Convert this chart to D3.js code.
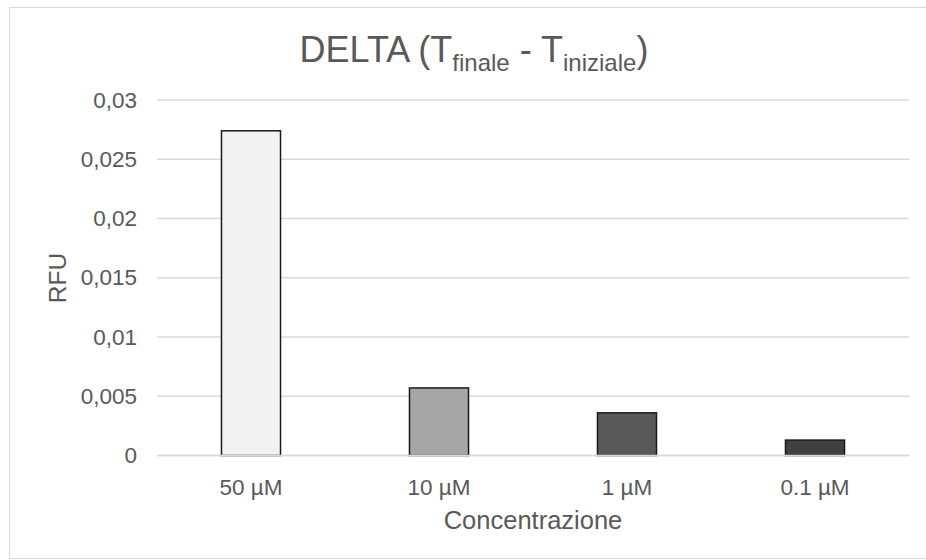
<!DOCTYPE html>
<html>
<head>
<meta charset="utf-8">
<script src="https://cdn.jsdelivr.net/npm/d3@7"></script>
<style>
  html, body { margin: 0; padding: 0; background: #fff; }
  svg { display: block; }
  text { font-family: "Liberation Sans", Arial, sans-serif; fill: #595959; }
</style>
</head>
<body>
<svg id="chart" width="926" height="560"></svg>
<script>
// Concentration groups and measured RFU deltas
const categories = ["50 µM", "10 µM", "1 µM", "0.1 µM"];
const values = [0.0274, 0.0057, 0.0036, 0.0013];
const barColors = ["#f2f2f2", "#a6a6a6", "#595959", "#404040"];
const yTicks = [0, 0.005, 0.01, 0.015, 0.02, 0.025, 0.03];
const yTickLabels = ["0", "0,005", "0,01", "0,015", "0,02", "0,025", "0,03"];

const svg = d3.select("#chart");
const W = 926, H = 560;
const plot = { left: 157, right: 909, top: 100, bottom: 455.5 };
const FONT = "'Liberation Sans', Arial, sans-serif";

// chart area frame
svg.append("rect")
  .attr("x", 9.5).attr("y", 7.5)
  .attr("width", W + 10).attr("height", 551)
  .attr("fill", "#fff").attr("stroke", "#d9d9d9").attr("stroke-width", 1);

const x = d3.scaleBand()
  .domain(categories)
  .range([plot.left, plot.right])
  .paddingInner(0.686)
  .paddingOuter(0.343);

const y = d3.scaleLinear()
  .domain([0, 0.03])
  .range([plot.bottom, plot.top]);

// horizontal gridlines
svg.append("g")
  .selectAll("line")
  .data(yTicks)
  .join("line")
  .attr("x1", plot.left).attr("x2", plot.right)
  .attr("y1", d => y(d)).attr("y2", d => y(d))
  .attr("stroke", "#d9d9d9").attr("stroke-width", 1.3);

// y axis tick labels
const yAxis = d3.axisLeft(y)
  .tickValues(yTicks)
  .tickFormat((d, i) => yTickLabels[i])
  .tickSize(0)
  .tickPadding(20);
const gy = svg.append("g").attr("transform", `translate(${plot.left},0)`).call(yAxis);
gy.select(".domain").remove();
gy.selectAll("text").style("font-size", "22.5px").attr("fill", "#595959")
  .style("font-family", FONT);

// bars
svg.append("g")
  .selectAll("rect")
  .data(values)
  .join("rect")
  .attr("x", (d, i) => x(categories[i]))
  .attr("y", d => y(d))
  .attr("width", x.bandwidth())
  .attr("height", d => y(0) - y(d))
  .attr("fill", (d, i) => barColors[i])
  .attr("stroke", "#1a1a1a")
  .attr("stroke-width", 1.5);

// baseline axis
svg.append("line")
  .attr("x1", plot.left).attr("x2", plot.right)
  .attr("y1", y(0)).attr("y2", y(0))
  .attr("stroke", "#d9d9d9").attr("stroke-width", 1.5);

// x axis category labels
const xAxis = d3.axisBottom(x).tickSize(0).tickPadding(24);
const gx = svg.append("g").attr("transform", `translate(0,${plot.bottom})`).call(xAxis);
gx.select(".domain").remove();
gx.selectAll("text").style("font-size", "22.5px").attr("fill", "#595959")
  .style("font-family", FONT);

// axis titles
svg.append("text")
  .attr("x", 533).attr("y", 529)
  .attr("text-anchor", "middle")
  .style("font-size", "25.5px")
  .text("Concentrazione");

svg.append("text")
  .attr("transform", "translate(66,278) rotate(-90)")
  .attr("text-anchor", "middle")
  .style("font-size", "24.5px")
  .text("RFU");

// chart title with subscripts
const title = svg.append("text")
  .attr("x", 474).attr("y", 62)
  .attr("text-anchor", "middle")
  .style("font-size", "36px");
title.append("tspan").text("DELTA (T");
title.append("tspan").attr("dy", 9).style("font-size", "24px").text("finale");
title.append("tspan").attr("dy", -9).text(" - T");
title.append("tspan").attr("dy", 9).style("font-size", "24px").text("iniziale");
title.append("tspan").attr("dy", -9).text(")");
</script>
</body>
</html>
